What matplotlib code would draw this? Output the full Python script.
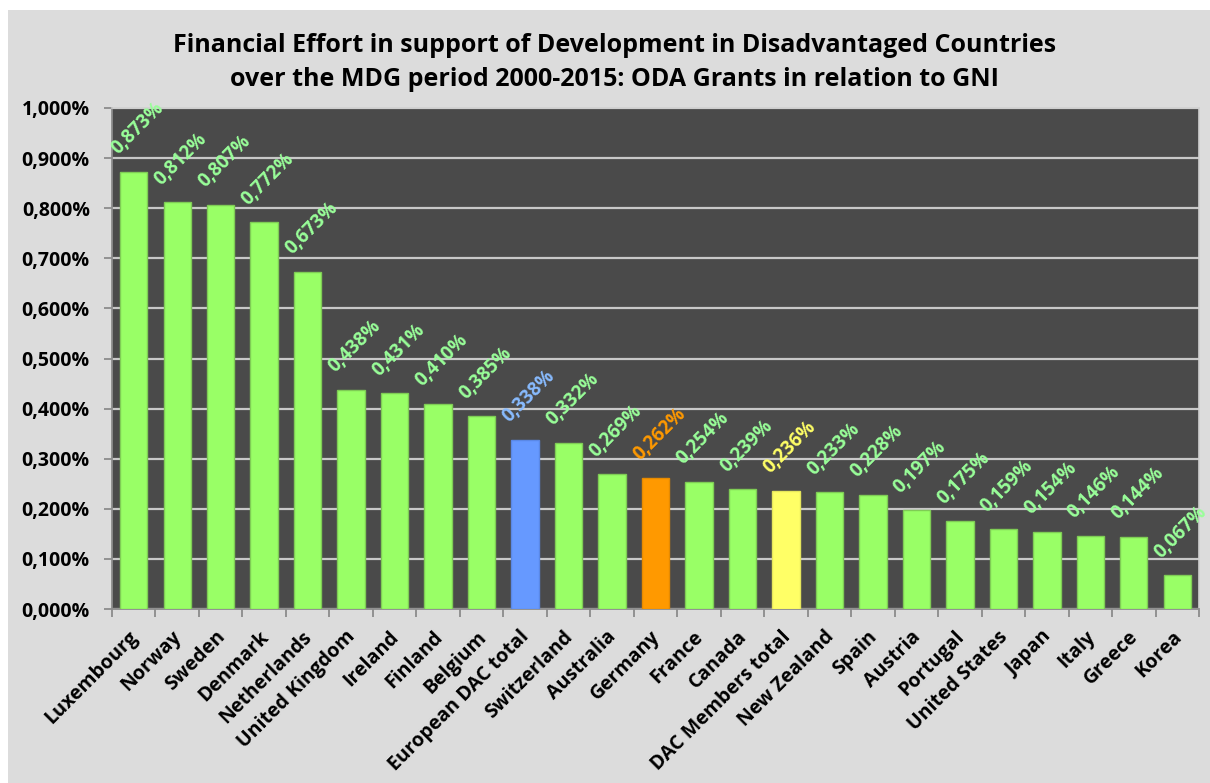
import matplotlib
matplotlib.use("Agg")
import matplotlib.pyplot as plt
from matplotlib.patches import Rectangle
from matplotlib.ticker import FuncFormatter, FixedLocator

countries = ["Luxembourg", "Norway", "Sweden", "Denmark", "Netherlands", "United Kingdom",
             "Ireland", "Finland", "Belgium", "European DAC total", "Switzerland", "Australia",
             "Germany", "France", "Canada", "DAC Members total", "New Zealand", "Spain",
             "Austria", "Portugal", "United States", "Japan", "Italy", "Greece", "Korea"]
values = [0.873, 0.812, 0.807, 0.772, 0.673, 0.438, 0.431, 0.410, 0.385, 0.338, 0.332, 0.269,
          0.262, 0.254, 0.239, 0.236, 0.233, 0.228, 0.197, 0.175, 0.159, 0.154, 0.146, 0.144, 0.067]
# (bar colour, edge colour, label colour)
highlight = {"European DAC total": ("#6699ff", "#5a88e6", "#88bbff"),
             "Germany": ("#ff9900", "#e68a00", "#ff9900"),
             "DAC Members total": ("#ffff66", "#e6e65c", "#ffff66")}
default_style = ("#99ff66", "#7fcc55", "#99ff99")
yticks = [0.0, 0.1, 0.2, 0.3, 0.4, 0.5, 0.6, 0.7, 0.8, 0.9, 1.0]

FONT = "Open Sans"

fig = plt.figure(figsize=(12.10, 7.83), dpi=100)
fig.patch.set_facecolor("white")
fig.patches.append(Rectangle((8/1210, 0), 1 - 8/1210, 1 - 10/783, transform=fig.transFigure,
                             facecolor="#dcdcdc", edgecolor="none", zorder=-10))

ax = fig.add_axes([112/1210, 1 - 609/783, (1199 - 112)/1210, (609 - 108)/783])
ax.set_facecolor("#4a4a4a")

x = list(range(len(countries)))
styles = [highlight.get(c, default_style) for c in countries]
ax.bar(x, values, width=0.63, color=[s[0] for s in styles],
       edgecolor=[s[1] for s in styles], linewidth=1.0, zorder=3)

for xi, v, st in zip(x, values, styles):
    ax.text(xi - 0.36, v + 0.033, f"{v:.3f}%".replace(".", ","), rotation=45,
            rotation_mode="anchor", ha="left", va="baseline", color=st[2],
            fontsize=13.5, fontweight="bold", family=FONT, zorder=4)

ax.set_xlim(-0.5, len(countries) - 0.5)
ax.set_ylim(0, 1.0)
ax.set_yticks(yticks)
ax.yaxis.set_major_formatter(FuncFormatter(lambda v, p: f"{v:.3f}%".replace(".", ",")))
ax.yaxis.grid(True, color="#c8c8c8", linewidth=1.6, zorder=1)
ax.set_axisbelow(True)

# category labels
ax.set_xticks(x)
ax.set_xticklabels([])
for xi, name in zip(x, countries):
    ax.annotate(name, xy=(xi, 0), xycoords=("data", "axes fraction"),
                xytext=(-4, -13), textcoords="offset points",
                rotation=45, rotation_mode="anchor", ha="right", va="top",
                fontsize=14, fontweight="bold", family=FONT, annotation_clip=False)
ax.xaxis.set_minor_locator(FixedLocator([i - 0.5 for i in range(len(countries) + 1)]))
ax.tick_params(axis="x", which="major", length=0)
ax.tick_params(axis="x", which="minor", length=5.5, width=1.3, color="#8c8c8c")
ax.tick_params(axis="y", length=6, width=1.3, color="#8c8c8c", pad=10,
               labelsize=14)
for lab in ax.get_yticklabels():
    lab.set_fontweight("bold")
    lab.set_family(FONT)

for s in ["top", "right"]:
    ax.spines[s].set_color("#d0d0d0")
    ax.spines[s].set_linewidth(1.2)
for s in ["left", "bottom"]:
    ax.spines[s].set_color("#8c8c8c")
    ax.spines[s].set_linewidth(1.3)

fig.text(0.508, 1 - 45/783, "Financial Effort in support of Development in Disadvantaged Countries",
         ha="center", va="center", fontsize=18, fontweight="bold", family=FONT)
fig.text(0.508, 1 - 80/783, "over the MDG period 2000-2015: ODA Grants in relation to GNI",
         ha="center", va="center", fontsize=18, fontweight="bold", family=FONT)

fig.savefig("out.png", dpi=100, facecolor=fig.get_facecolor())
